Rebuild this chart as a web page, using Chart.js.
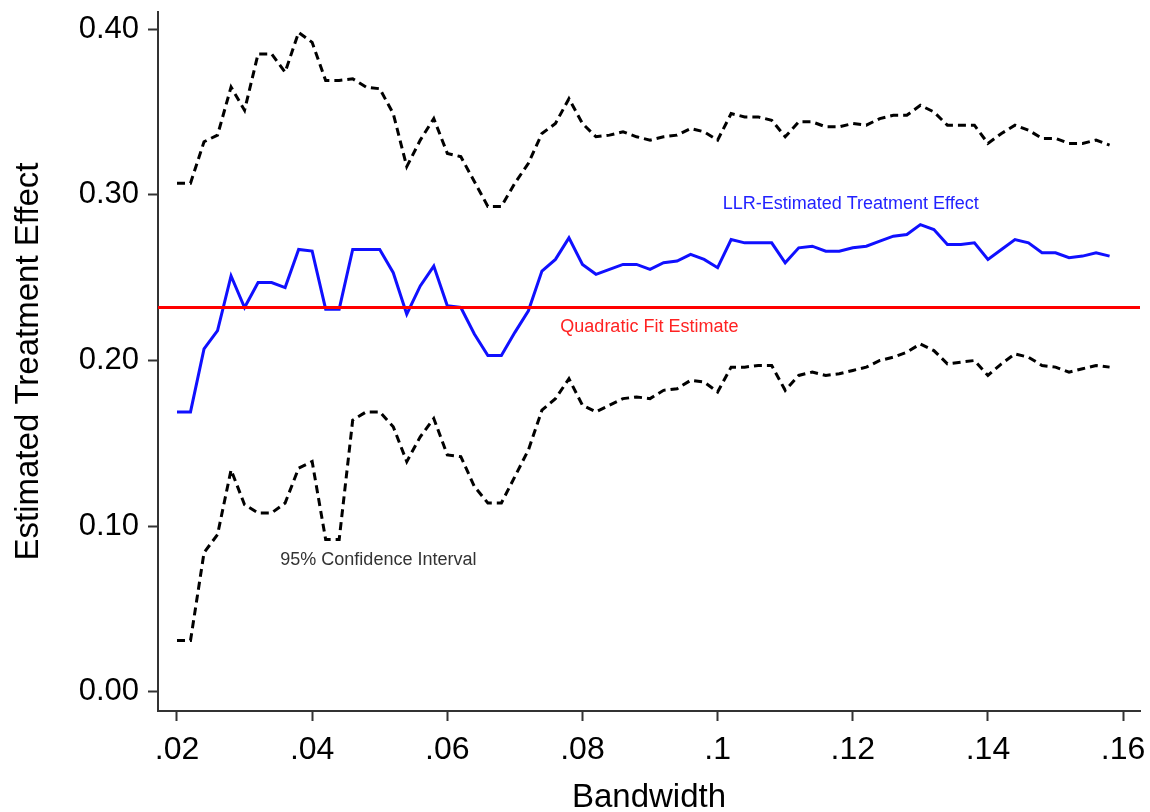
<!DOCTYPE html>
<html>
<head>
<meta charset="utf-8">
<title>Estimated Treatment Effect by Bandwidth</title>
<script src="https://cdn.jsdelivr.net/npm/chart.js@4/dist/chart.umd.min.js"></script>
<style>
  html, body { margin: 0; padding: 0; background: #ffffff; }
  #wrap { width: 1150px; height: 812px; }
  canvas { display: block; }
</style>
</head>
<body>
<div id="wrap"><canvas id="chart" width="1150" height="812"></canvas></div>
<script>
// Bandwidths at which the local linear regression was estimated
const bandwidth = [
  0.020, 0.022, 0.024, 0.026, 0.028, 0.030, 0.032, 0.034, 0.036, 0.038,
  0.040, 0.042, 0.044, 0.046, 0.048, 0.050, 0.052, 0.054, 0.056, 0.058,
  0.060, 0.062, 0.064, 0.066, 0.068, 0.070, 0.072, 0.074, 0.076, 0.078,
  0.080, 0.082, 0.084, 0.086, 0.088, 0.090, 0.092, 0.094, 0.096, 0.098,
  0.100, 0.102, 0.104, 0.106, 0.108, 0.110, 0.112, 0.114, 0.116, 0.118,
  0.120, 0.122, 0.124, 0.126, 0.128, 0.130, 0.132, 0.134, 0.136, 0.138,
  0.140, 0.142, 0.144, 0.146, 0.148, 0.150, 0.152, 0.154, 0.156, 0.158
];

// LLR point estimates
const llrEstimate = [
  0.169, 0.169, 0.207, 0.218, 0.251, 0.232, 0.247, 0.247, 0.244, 0.267,
  0.266, 0.231, 0.231, 0.267, 0.267, 0.267, 0.253, 0.228, 0.245, 0.257,
  0.233, 0.232, 0.216, 0.203, 0.203, 0.217, 0.230, 0.254, 0.261, 0.274,
  0.258, 0.252, 0.255, 0.258, 0.258, 0.255, 0.259, 0.260, 0.264, 0.261,
  0.256, 0.273, 0.271, 0.271, 0.271, 0.259, 0.268, 0.269, 0.266, 0.266,
  0.268, 0.269, 0.272, 0.275, 0.276, 0.282, 0.279, 0.270, 0.270, 0.271,
  0.261, 0.267, 0.273, 0.271, 0.265, 0.265, 0.262, 0.263, 0.265, 0.263
];

// 95% confidence bounds
const ciUpper = [
  0.307, 0.307, 0.332, 0.336, 0.365, 0.351, 0.385, 0.385, 0.374, 0.398,
  0.392, 0.369, 0.369, 0.370, 0.365, 0.364, 0.349, 0.317, 0.333, 0.346,
  0.325, 0.323, 0.308, 0.293, 0.293, 0.307, 0.319, 0.337, 0.343, 0.358,
  0.343, 0.335, 0.336, 0.338, 0.335, 0.333, 0.335, 0.336, 0.340, 0.338,
  0.333, 0.349, 0.347, 0.347, 0.345, 0.335, 0.344, 0.344, 0.341, 0.341,
  0.343, 0.342, 0.346, 0.348, 0.348, 0.354, 0.350, 0.342, 0.342, 0.342,
  0.331, 0.337, 0.342, 0.339, 0.334, 0.334, 0.331, 0.331, 0.333, 0.330
];
const ciLower = [
  0.031, 0.031, 0.084, 0.095, 0.134, 0.113, 0.108, 0.108, 0.114, 0.135,
  0.139, 0.092, 0.092, 0.164, 0.169, 0.169, 0.160, 0.139, 0.154, 0.165,
  0.143, 0.142, 0.124, 0.114, 0.114, 0.130, 0.146, 0.170, 0.177, 0.189,
  0.173, 0.169, 0.173, 0.177, 0.178, 0.177, 0.182, 0.183, 0.188, 0.187,
  0.181, 0.196, 0.196, 0.197, 0.197, 0.182, 0.191, 0.193, 0.191, 0.192,
  0.194, 0.196, 0.200, 0.202, 0.205, 0.210, 0.206, 0.198, 0.199, 0.200,
  0.191, 0.198, 0.204, 0.202, 0.197, 0.196, 0.193, 0.195, 0.197, 0.196
];

// Global quadratic-fit estimate
const quadraticFit = 0.232;

// Axis ticks
const xTickValues = [0.02, 0.04, 0.06, 0.08, 0.10, 0.12, 0.14, 0.16];
const xTickLabels = ['.02', '.04', '.06', '.08', '.1', '.12', '.14', '.16'];
const yTickValues = [0.0, 0.1, 0.2, 0.3, 0.4];
const yTickLabels = ['0.00', '0.10', '0.20', '0.30', '0.40'];

// Axis ranges
const X_MIN = 0.01719, X_MAX = 0.1625;
const Y_MIN = -0.0115, Y_MAX = 0.4103;

// In-plot text labels, placed in data coordinates
const notes = [
  { text: 'LLR-Estimated Treatment Effect', x: 0.1197, y: 0.2944, color: '#2222ff' },
  { text: 'Quadratic Fit Estimate',         x: 0.0899, y: 0.2202, color: '#ff2222' },
  { text: '95% Confidence Interval',        x: 0.0498, y: 0.0796, color: '#333333' }
];

const FONT = "'Liberation Sans', Arial, Helvetica, sans-serif";
const toPoints = ys => bandwidth.map((b, i) => ({ x: b, y: ys[i] }));

const notesPlugin = {
  id: 'notes',
  afterDatasetsDraw(chart) {
    const { ctx, scales: { x, y } } = chart;
    ctx.save();
    ctx.font = '18px ' + FONT;
    ctx.textAlign = 'center';
    ctx.textBaseline = 'middle';
    notes.forEach(n => {
      ctx.fillStyle = n.color;
      ctx.fillText(n.text, x.getPixelForValue(n.x), y.getPixelForValue(n.y));
    });
    ctx.restore();
  }
};

new Chart(document.getElementById('chart'), {
  type: 'line',
  data: {
    datasets: [
      {
        label: 'Quadratic Fit Estimate',
        data: [{ x: X_MIN, y: quadraticFit }, { x: X_MAX, y: quadraticFit }],
        borderColor: '#ff0000',
        borderWidth: 3,
        pointRadius: 0
      },
      {
        label: 'Upper 95% CI',
        data: toPoints(ciUpper),
        borderColor: '#000000',
        borderWidth: 3,
        borderDash: [8, 5],
        pointRadius: 0
      },
      {
        label: 'Lower 95% CI',
        data: toPoints(ciLower),
        borderColor: '#000000',
        borderWidth: 3,
        borderDash: [8, 5],
        pointRadius: 0
      },
      {
        label: 'LLR-Estimated Treatment Effect',
        data: toPoints(llrEstimate),
        borderColor: '#1010ff',
        borderWidth: 3,
        pointRadius: 0
      }
    ]
  },
  options: {
    responsive: false,
    animation: false,
    devicePixelRatio: 1,
    layout: { padding: { left: 0, right: 10, top: 12, bottom: 0 } },
    plugins: {
      legend: { display: false },
      tooltip: { enabled: false }
    },
    scales: {
      x: {
        type: 'linear',
        min: X_MIN,
        max: X_MAX,
        afterBuildTicks: s => { s.ticks = xTickValues.map(v => ({ value: v })); },
        afterFit: s => { s.height = 101; s.paddingLeft = 0; s.paddingRight = 0; },
        ticks: {
          autoSkip: false,
          maxRotation: 0,
          color: '#000000',
          padding: 10,
          font: { family: FONT, size: 32 },
          callback: v => xTickLabels[xTickValues.findIndex(t => Math.abs(t - v) < 1e-9)]
        },
        grid: {
          drawOnChartArea: false,
          drawTicks: true,
          tickLength: 10,
          tickWidth: 2,
          tickColor: '#333333'
        },
        border: { display: true, color: '#333333', width: 2 },
        title: {
          display: true,
          text: 'Bandwidth',
          color: '#000000',
          padding: { top: 0, bottom: 0 },
          font: { family: FONT, size: 33, lineHeight: 0.85 }
        }
      },
      y: {
        type: 'linear',
        min: Y_MIN,
        max: Y_MAX,
        afterBuildTicks: s => { s.ticks = yTickValues.map(v => ({ value: v })); },
        afterFit: s => { s.width = 158; s.paddingTop = 0; s.paddingBottom = 0; },
        ticks: {
          color: '#000000',
          padding: 9,
          font: { family: FONT, size: 31 },
          callback: v => yTickLabels[yTickValues.findIndex(t => Math.abs(t - v) < 1e-9)]
        },
        grid: {
          drawOnChartArea: false,
          drawTicks: true,
          tickLength: 10,
          tickWidth: 2,
          tickColor: '#333333'
        },
        border: { display: true, color: '#333333', width: 2 },
        title: {
          display: true,
          text: 'Estimated Treatment Effect',
          color: '#000000',
          padding: { top: 9, bottom: 0 },
          font: { family: FONT, size: 33, lineHeight: 1.2 }
        }
      }
    }
  },
  plugins: [notesPlugin]
});
</script>
</body>
</html>
